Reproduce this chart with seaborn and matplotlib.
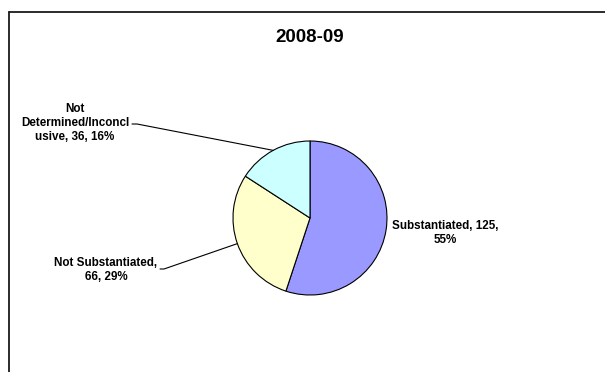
import matplotlib
matplotlib.use("Agg")
import matplotlib.pyplot as plt
import seaborn as sns
import numpy as np
from matplotlib.lines import Line2D

# ---- data ----
categories = ["Substantiated", "Not Substantiated", "Not Determined/Inconclusive"]
counts = [125, 66, 36]
percents = [55, 29, 16]
label_texts = ["Substantiated, 125,\n55%",
               "Not Substantiated,\n66, 29%",
               "Not\nDetermined/Inconcl\nusive, 36, 16%"]
title = "2008-09"
slice_colors = ["#9999FF", "#FFFFCC", "#CCFFFF"]

sns.set_theme(style="white")
plt.rcParams["font.family"] = ["Liberation Sans", "DejaVu Sans"]
plt.rcParams["text.color"] = "black"

W, H = 605, 372
fig = plt.figure(figsize=(W / 100, H / 100), dpi=100)
fig.patch.set_facecolor("white")
ax = fig.add_axes([0, 0, 1, 1])

cx, cy, r = 310, H - 218, 77
palette = sns.color_palette(slice_colors)
wedges, _ = ax.pie(counts, colors=palette, startangle=90, counterclock=False,
                   center=(cx, cy), radius=r,
                   wedgeprops=dict(edgecolor="black", linewidth=0.8))
ax.set_xlim(0, W)
ax.set_ylim(0, H)
ax.set_aspect("equal")
ax.axis("off")

# frame (chart area border, running off right/bottom)
fig.add_artist(Line2D([8.5 / W, 8.5 / W], [0, 1 - 12 / H], transform=fig.transFigure,
                      color="#1a1a1a", lw=1.3))
fig.add_artist(Line2D([8.5 / W, 1], [1 - 12 / H, 1 - 12 / H], transform=fig.transFigure,
                      color="#1a1a1a", lw=1.3))

ax.text(310, H - 37, title, ha="center", va="center", fontsize=13.5,
        fontweight="bold", color="black")

fs = 8.4
mids = []
for w in wedges:
    th = np.deg2rad((w.theta1 + w.theta2) / 2)
    mids.append((cx + r * np.cos(th), cy + r * np.sin(th)))

# Substantiated label (no leader)
ax.text(445, H - 233, label_texts[0], ha="center", va="center", fontsize=fs,
        fontweight="bold", linespacing=1.2, color="black")
# Not Substantiated label + leader
ax.text(106, H - 270, label_texts[1], ha="center", va="center", fontsize=fs,
        fontweight="bold", linespacing=1.2, color="black")
ax.plot([160, 164, mids[1][0]], [H - 269, H - 269, mids[1][1]], color="black", lw=0.8)
# Not Determined label + leader
ax.text(75, H - 123, label_texts[2], ha="center", va="center", fontsize=fs,
        fontweight="bold", linespacing=1.2, color="black")
ax.plot([132, 137, mids[2][0]], [H - 124, H - 124, mids[2][1]], color="black", lw=0.8)

fig.savefig("out.png", dpi=100, facecolor="white")
